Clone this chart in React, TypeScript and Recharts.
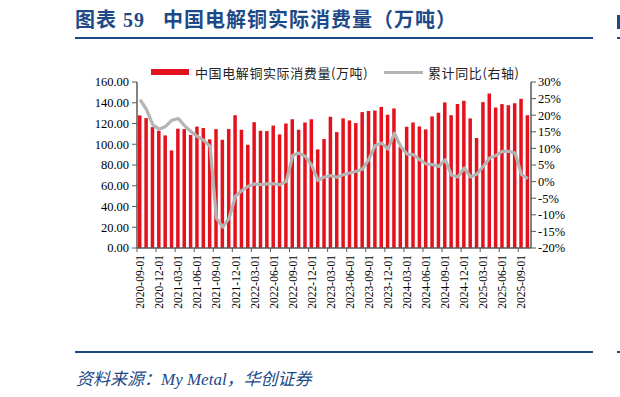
import React from 'react';
import { ComposedChart, Bar, Line, XAxis, YAxis } from 'recharts';

const months = [
  '2020-09-01', '2020-10-01', '2020-11-01', '2020-12-01', '2021-01-01', '2021-02-01',
  '2021-03-01', '2021-04-01', '2021-05-01', '2021-06-01', '2021-07-01', '2021-08-01',
  '2021-09-01', '2021-10-01', '2021-11-01', '2021-12-01', '2022-01-01', '2022-02-01',
  '2022-03-01', '2022-04-01', '2022-05-01', '2022-06-01', '2022-07-01', '2022-08-01',
  '2022-09-01', '2022-10-01', '2022-11-01', '2022-12-01', '2023-01-01', '2023-02-01',
  '2023-03-01', '2023-04-01', '2023-05-01', '2023-06-01', '2023-07-01', '2023-08-01',
  '2023-09-01', '2023-10-01', '2023-11-01', '2023-12-01', '2024-01-01', '2024-02-01',
  '2024-03-01', '2024-04-01', '2024-05-01', '2024-06-01', '2024-07-01', '2024-08-01',
  '2024-09-01', '2024-10-01', '2024-11-01', '2024-12-01', '2025-01-01', '2025-02-01',
  '2025-03-01', '2025-04-01', '2025-05-01', '2025-06-01', '2025-07-01', '2025-08-01',
  '2025-09-01', '2025-10-01',
];

// 中国电解铜实际消费量(万吨)
const consumption = [
  127.8, 125.2, 116.5, 113, 108.5, 94, 115, 114.6, 109, 117, 115.6, 104.7,
  114.6, 104.3, 114.6, 128, 114, 99.5, 121.3, 113, 112.7, 118, 109.5, 120,
  124, 114, 121, 124, 95, 105, 126.5, 111.7, 124.9, 123, 120.4, 131,
  132, 132.5, 136, 128.4, 134.5, 97.3, 116.9, 121, 117.2, 114.3, 126.8, 130.3,
  140.3, 128, 138.7, 141.9, 124.9, 106, 140.6, 149, 135.5, 138.7, 137.7, 139.6,
  143.8, 128,
];

// 累计同比(右轴), %
const yoy = [
  24.7, 21.7, 17.1, 15.8, 16.6, 18.5, 19, 16.8, 15.1, 13.6, 12.4, 10.6,
  -11, -13.7, -11, -4.4, -2.7, -1.4, -0.7, -0.9, -0.7, -0.7, -0.9, 0.1,
  7.9, 8.6, 7.6, 4.9, 0.3, 1.4, 1.8, 1.3, 2.1, 2.6, 3.1, 3.8,
  6.8, 10.9, 11.6, 9.8, 14.6, 10.6, 8.3, 8.1, 6.6, 5.3, 5.1, 4.6,
  6.6, 1.9, 1.4, 4.1, 1.4, 2.3, 4.6, 7.1, 7.9, 9.1, 9.1, 8.6,
  2.1, 0.9,
];

const leftTicks = [0, 20, 40, 60, 80, 100, 120, 140, 160];
const rightTicks = [-20, -15, -10, -5, 0, 5, 10, 15, 20, 25, 30];

const data = months.map((m, i) => ({ month: m, consumption: consumption[i], yoy: yoy[i] }));

const BLUE = '#1d4a87';
const AXIS = '#595959';
const serif = '"Liberation Serif", "Times New Roman", serif';
const cjk = '"Liberation Serif", "Noto Sans CJK SC", serif';

const PLOT_LEFT = 137;
const PLOT_RIGHT = 531;
const BAND = (PLOT_RIGHT - PLOT_LEFT) / months.length;

const XTick = ({ x, y, payload }: any) => {
  const bx = x - BAND / 2;
  return (
    <g>
      <line x1={bx} y1={y - 6} x2={bx} y2={y - 2} stroke={AXIS} strokeWidth={1} />
      <text
        transform={`translate(${x + 4},${y + 1}) rotate(-90)`}
        textAnchor="end"
        fontSize={11.5}
        fontFamily={serif}
        fill="#000"
      >
        {payload.value}
      </text>
    </g>
  );
};

const App: React.FC = () => {
  return (
    <div style={{ position: 'fixed', left: 0, top: 0, width: 620, height: 397, background: '#fff' }}>
      <div
        style={{
          position: 'absolute', left: 75, top: 7, fontFamily: cjk, fontWeight: 'bold',
          fontSize: 20, lineHeight: '26px', color: BLUE, whiteSpace: 'nowrap', letterSpacing: 1,
        }}
      >
        图表 59&nbsp;&nbsp;&nbsp;中国电解铜实际消费量（万吨）
      </div>
      <div style={{ position: 'absolute', left: 75, top: 37, width: 518, height: 2, background: BLUE }} />
      <div style={{ position: 'absolute', left: 617, top: 15, width: 3, height: 14, background: BLUE }} />
      <div style={{ position: 'absolute', left: 617, top: 37, width: 3, height: 2, background: BLUE }} />

      {/* legend */}
      <div style={{ position: 'absolute', left: 151, top: 69, width: 38, height: 6, background: '#e3121c' }} />
      <div
        style={{
          position: 'absolute', left: 195, top: 63, fontFamily: '"Noto Sans CJK SC", serif',
          fontSize: 13, color: '#222', whiteSpace: 'nowrap', letterSpacing: 0.6,
        }}
      >
        中国电解铜实际消费量(万吨)
      </div>
      <div style={{ position: 'absolute', left: 384, top: 71, width: 39, height: 3, background: '#b4b4b4' }} />
      <div
        style={{
          position: 'absolute', left: 428, top: 63, fontFamily: '"Noto Sans CJK SC", serif',
          fontSize: 13, color: '#222', whiteSpace: 'nowrap', letterSpacing: 0.6,
        }}
      >
        累计同比(右轴)
      </div>

      <div style={{ position: 'absolute', left: 0, top: 0 }}>
        <ComposedChart
          width={620}
          height={397}
          data={data}
          margin={{ top: 82, right: 0, left: 0, bottom: 89 }}
        >
          <XAxis
            dataKey="month"
            interval={2}
            height={60}
            tickSize={4}
            tickMargin={2}
            tickLine={false}
            axisLine={{ stroke: AXIS, strokeWidth: 1.5 }}
            tick={<XTick />}
          />
          <YAxis
            yAxisId="left"
            width={137}
            domain={[0, 160]}
            ticks={leftTicks}
            interval={0}
            tickSize={5}
            tickMargin={3}
            tickFormatter={(v: number) => v.toFixed(2)}
            axisLine={{ stroke: AXIS, strokeWidth: 1.5 }}
            tickLine={{ stroke: AXIS }}
            tick={{ fill: '#000', fontSize: 12.5, fontFamily: serif }}
          />
          <YAxis
            yAxisId="right"
            orientation="right"
            width={89}
            domain={[-20, 30]}
            ticks={rightTicks}
            interval={0}
            tickSize={5}
            tickMargin={2}
            tickFormatter={(v: number) => `${v}%`}
            axisLine={{ stroke: AXIS, strokeWidth: 1.5 }}
            tickLine={{ stroke: AXIS }}
            tick={{ fill: '#000', fontSize: 12.5, fontFamily: serif }}
          />
          <Bar
            yAxisId="left"
            dataKey="consumption"
            fill="#e3121c"
            barSize={3.5}
            isAnimationActive={false}
          />
          <Line
            yAxisId="right"
            dataKey="yoy"
            type="linear"
            stroke="#b4b4b4"
            strokeWidth={3.2}
            dot={false}
            strokeLinejoin="round"
            isAnimationActive={false}
          />
        </ComposedChart>
      </div>

      <div style={{ position: 'absolute', left: 75, top: 351, width: 518, height: 2, background: BLUE }} />
      <div style={{ position: 'absolute', left: 617, top: 351, width: 3, height: 2, background: BLUE }} />
      <div
        style={{
          position: 'absolute', left: 76, top: 365, fontFamily: '"Liberation Serif", "Noto Sans CJK SC", serif',
          fontStyle: 'italic', fontSize: 17, color: BLUE, whiteSpace: 'nowrap',
        }}
      >
        资料来源：My Metal，华创证券
      </div>
    </div>
  );
};

export default App;
